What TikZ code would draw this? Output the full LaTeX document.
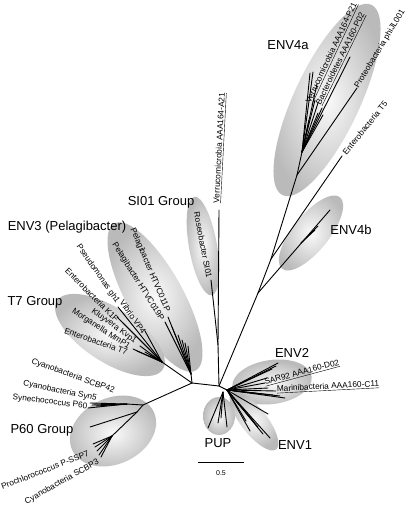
\documentclass[tikz,border=0pt]{standalone}
\usepackage{fontspec}
\setmainfont{Liberation Sans}
\begin{document}
\begin{tikzpicture}[x=1pt,y=-1pt,
  grp/.style={shading=radial, inner color=black!2, outer color=black!27},
  br/.style={line width=0.9pt, line cap=round},
  glab/.style={font=\fontsize{13}{13}\selectfont, inner sep=0pt},
  leaf/.style={font=\fontsize{8.3}{8.3}\selectfont, inner sep=0pt}]
\useasboundingbox (0,0) rectangle (406,505);
\fill[white] (0,0) rectangle (406,505);

% ---------- group ellipses ----------
\coordinate (c4a) at (327,100);
\coordinate (c4b) at (311,233);
\coordinate (cSI) at (203,246);
\coordinate (cE3) at (155,297);
\coordinate (cT7) at (110,335);
\coordinate (cP6) at (113,431);
\coordinate (cPU) at (219,416);
\coordinate (cE2) at (272,382);
\coordinate (cE1) at (254,421);
\shade[grp, rotate around={65:(c4a)}] (c4a) ellipse (105 and 33);
\shade[grp, rotate around={51:(c4b)}] (c4b) ellipse (46 and 18);
\shade[grp, rotate around={-80:(cSI)}] (cSI) ellipse (50 and 14);
\shade[grp, rotate around={-61:(cE3)}] (cE3) ellipse (84 and 28);
\shade[grp, rotate around={-33:(cT7)}] (cT7) ellipse (63 and 27);
\shade[grp, rotate around={25:(cP6)}] (cP6) ellipse (45 and 33);
\shade[grp] (cPU) ellipse (16 and 19);
\shade[grp, rotate around={8:(cE2)}] (cE2) ellipse (40 and 22);
\shade[grp, rotate around={-52:(cE1)}] (cE1) ellipse (36 and 13);

% ---------- internal nodes ----------
\coordinate (A) at (192,383);
\coordinate (B) at (219,386);
\coordinate (D) at (227,390);
\coordinate (Dp) at (223,392);
\coordinate (S) at (218,345);
\coordinate (E) at (258,293);
\coordinate (H) at (301,243);
\coordinate (F) at (271,259);
\coordinate (G) at (297,175);
\coordinate (I) at (302,152);
\coordinate (P1) at (143,405);
\coordinate (P2) at (127,404);
\coordinate (P3) at (137,412);
\coordinate (P4) at (112,436);
\coordinate (T) at (162,362);
\coordinate (Q) at (191,374);

% ---------- tips ----------
\coordinate (tV21) at (219,210);
\coordinate (tRos) at (211,280);
\coordinate (tb1) at (330,210);
\coordinate (tb2) at (318,226);
\coordinate (tb3) at (315,230);
\coordinate (tT5) at (342,156);
\coordinate (tPhi) at (357,88);
\coordinate (ta1) at (350,57);
\coordinate (ta2) at (310,73);
\coordinate (ta3) at (313,72);
\coordinate (ta4) at (317,84);
\coordinate (ta5) at (315,100);
\coordinate (ta6) at (318,103);
\coordinate (ta7) at (322,108);
\coordinate (ta8) at (318,113);
\coordinate (ta9) at (323,115);
\coordinate (ta10) at (309,120);
\coordinate (tp1) at (90,403);
\coordinate (tp2) at (92,405);
\coordinate (tp3) at (88,408);
\coordinate (tp4) at (96,406);
\coordinate (tp5) at (101,404);
\coordinate (tp6) at (90,427);
\coordinate (tp7) at (95,447);
\coordinate (tp8) at (97,451);
\coordinate (tp9) at (99,455);
\coordinate (tp10) at (101,457);
\coordinate (tp11) at (93,444);
\coordinate (tt1) at (118,307);
\coordinate (tt2) at (117,317);
\coordinate (tt3) at (123,323);
\coordinate (tt4) at (145,331);
\coordinate (tt5) at (133,349);
\coordinate (tt6) at (137,351);
\coordinate (tt7) at (140,346);
\coordinate (tt8) at (145,352);
\coordinate (tt9) at (150,355);
\coordinate (te1) at (168,317);
\coordinate (te2) at (165,322);
\coordinate (te3) at (172,327);
\coordinate (te4) at (178,335);
\coordinate (te5) at (182,340);
\coordinate (te6) at (185,343);
\coordinate (te7) at (188,346);
\coordinate (tn1) at (278,363);
\coordinate (tn2) at (276,366);
\coordinate (tn3) at (272,369);
\coordinate (tn4) at (267,378);
\coordinate (tn5) at (265,383);
\coordinate (tn6) at (276,391);
\coordinate (tn7) at (285,398);
\coordinate (tn8) at (280,396);
\coordinate (tn9) at (273,395);
\coordinate (tn10) at (262,394);
\coordinate (tn11) at (268,388);
\coordinate (tm1) at (268,414);
\coordinate (tm2) at (270,438);
\coordinate (tm3) at (250,431);
\coordinate (tm4) at (246,421);
\coordinate (tm5) at (253,421);
\coordinate (tm6) at (263,434);
\coordinate (tm7) at (258,427);
\coordinate (tu1) at (208,428);
\coordinate (tu2) at (218,423);
\coordinate (tu3) at (227,427);
\coordinate (tu4) at (221,418);

% ---------- branches ----------
\draw[br] (A) -- (B) -- (D);
\draw[br] (A) -- (P1);
\draw[br] (A) -- (T);
\draw[br] (A) -- (Q);
\draw[br] (B) -- (S);
\draw[br] (S) -- (tV21);
\draw[br] (S) -- (tRos);
\draw[br] (B) -- (E);
\draw[br] (E) -- (tb1);
\draw[br] (H) -- (tb2);
\draw[br] (H) -- (tb3);
\draw[br] (E) -- (F);
\draw[br] (F) -- (tT5);
\draw[br] (F) -- (G);
\draw[br] (G) -- (tPhi);
\draw[br] (G) -- (I);
\foreach \t in {ta1,ta2,ta3,ta4,ta5,ta6,ta7,ta8,ta9,ta10} \draw[br] (I) -- (\t);
\draw[br] (P1) -- (P2);
\foreach \t in {tp1,tp2,tp3,tp4,tp5} \draw[br] (P2) -- (\t);
\draw[br] (P1) -- (P3);
\draw[br] (P3) -- (tp6);
\draw[br] (P3) -- (P4);
\foreach \t in {tp7,tp8,tp9,tp10,tp11} \draw[br] (P4) -- (\t);
\foreach \t in {tt1,tt2,tt3,tt4,tt5,tt6,tt7,tt8,tt9} \draw[br] (T) -- (\t);
\foreach \t in {te1,te2,te3,te4,te5,te6,te7} \draw[br] (Q) -- (\t);
\foreach \t in {tn1,tn2,tn3,tn4,tn5,tn6,tn7,tn8,tn9,tn10,tn11} \draw[br] (D) -- (\t);
\foreach \t in {tm1,tm2,tm3,tm4,tm5,tm6,tm7} \draw[br] (D) -- (\t);
\foreach \t in {tu1,tu2,tu3,tu4} \draw[br] (Dp) -- (\t);

% ---------- group labels ----------
\node[glab] (l4a) at (288,45) {ENV4a};
\node[glab] (l4b) at (351,230) {ENV4b};
\node[glab] (lSI) at (161,202) {SI01 Group};
\node[glab] (lE3) at (67,227) {ENV3 (Pelagibacter)};
\node[glab] (lT7) at (35,302) {T7 Group};
\node[glab] (lP6) at (42,430) {P60 Group};
\node[glab] (lPU) at (218,443) {PUP};
\node[glab] (lE1) at (295,445) {ENV1};
\node[glab] (lE2) at (292,353) {ENV2};

% ---------- leaf labels ----------
\node[leaf, rotate=65] (n1) at (332,53) {\underline{Verrucomicrobia AAA164-P21}};
\node[leaf, rotate=64] (n2) at (341,59) {\underline{Bacteroidetes AAA160-P02}};
\node[leaf, rotate=59] (n3) at (380,49) {Proteobacteria phiJL001};
\node[leaf, rotate=51] (n4) at (365,128) {Enterobacteria T5};
\node[leaf, rotate=87] (n5) at (220,148) {\underline{Verrucomicrobia AAA164-A21}};
\node[leaf, rotate=-79] (n6) at (203,245) {Roseobacter SI01};
\node[leaf, rotate=-67] (n7) at (150,270) {Pelagibacter HTVC011P};
\node[leaf, rotate=-58] (n8) at (138,282) {Pelagibacter HTVC019P};
\node[leaf, rotate=-55] (n9) at (98,274) {Pseudomonas gh1};
\node[leaf, rotate=-45] (n10) at (92,295) {Enterobacteria K1F};
\node[leaf, rotate=-55] (n11) at (133,317) {Vibrio VP4};
\node[leaf, rotate=-36] (n12) at (114,326) {Kluyvera Kvp1};
\node[leaf, rotate=-33] (n13) at (101,329) {Morganella MmP1};
\node[leaf, rotate=-19] (n14) at (96,341) {Enterobacteria T7};
\node[leaf, rotate=-20] (n15) at (73,376) {Cyanobacteria SCBP42};
\node[leaf, rotate=-12] (n16) at (60,391) {Cyanobacteria Syn5};
\node[leaf, rotate=-7] (n17) at (50,402) {Synechococcus P60};
\node[leaf, rotate=21] (n18) at (45,470) {Prochlorococcus P-SSP7};
\node[leaf, rotate=29] (n19) at (62,482) {Cyanobacteria SCBP3};
\node[leaf, rotate=15] (n20) at (302,373) {\underline{SAR92 AAA160-D02}};
\node[leaf, rotate=3] (n21) at (328,387) {\underline{Marinibacteria AAA160-C11}};

% ---------- scale bar ----------
\coordinate (s1) at (198,462);
\coordinate (s2) at (244,462);
\draw[line width=0.8pt] (s1) -- (s2);
\node[font=\fontsize{7}{7}\selectfont, inner sep=0pt] (sl) at (221,473) {0.5};
\end{tikzpicture}
\end{document}
